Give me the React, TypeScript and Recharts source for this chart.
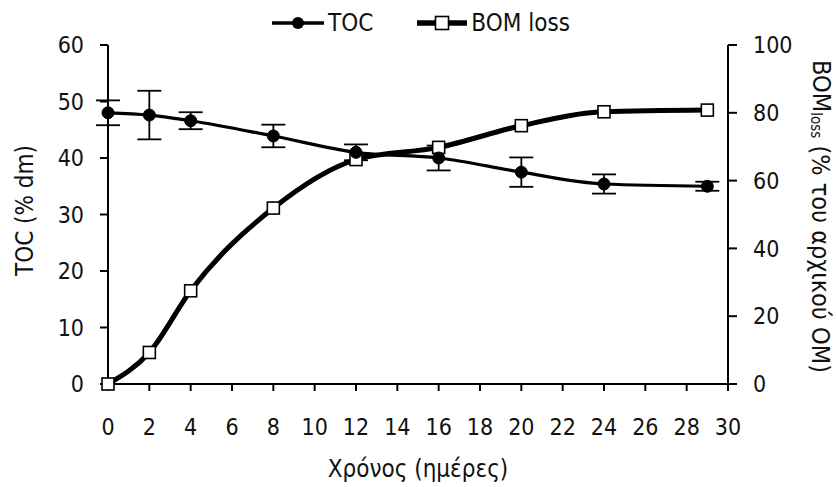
import { CartesianGrid, ErrorBar, Legend, Line, LineChart, XAxis, YAxis } from 'recharts';

const days = [0, 2, 4, 8, 12, 16, 20, 24, 29];
const toc = [48.0, 47.6, 46.6, 43.9, 41.0, 40.0, 37.5, 35.4, 35.0];
const tocErr = [2.2, 4.3, 1.5, 2.0, 1.4, 2.2, 2.6, 1.7, 0.8];
const bomLoss = [0, 9.3, 27.5, 51.9, 66.2, 69.8, 76.2, 80.3, 80.8];

const xTicks = [0, 2, 4, 6, 8, 10, 12, 14, 16, 18, 20, 22, 24, 26, 28, 30];
const leftTicks = [0, 10, 20, 30, 40, 50, 60];
const rightTicks = [0, 20, 40, 60, 80, 100];

const data = days.map((d, i) => ({
  day: d,
  toc: toc[i],
  tocErr: tocErr[i],
  bom: bomLoss[i],
}));

const FONT = "'DejaVu Sans Condensed', 'Liberation Sans', sans-serif";
const tickStyle = { fontSize: 23, fill: '#111', fontFamily: FONT };

const SquareDot = (props: any) => {
  const { cx, cy, index } = props;
  if (cx == null || cy == null) return <g key={`sq-${index}`} />;
  return (
    <rect
      key={`sq-${index}`}
      x={cx - 6}
      y={cy - 6}
      width={12}
      height={12}
      fill='#fff'
      stroke='#000'
      strokeWidth={1.6}
    />
  );
};

const LegendContent = () => (
  <div
    style={{
      display: 'flex',
      justifyContent: 'center',
      alignItems: 'center',
      height: 45,
      fontFamily: FONT,
      fontSize: 24,
      color: '#111',
      paddingLeft: 6,
    }}
  >
    <svg width={52} height={20} style={{ marginRight: 4 }}>
      <line x1={0} y1={10} x2={52} y2={10} stroke='#000' strokeWidth={3.5} />
      <circle cx={26} cy={10} r={6} fill='#000' />
    </svg>
    <span style={{ marginRight: 44 }}>TOC</span>
    <svg width={50} height={20} style={{ marginRight: 4 }}>
      <line x1={0} y1={10} x2={50} y2={10} stroke='#000' strokeWidth={5.5} />
      <rect x={18.5} y={3.5} width={13} height={13} fill='#fff' stroke='#000' strokeWidth={1.6} />
    </svg>
    <span>BOM loss</span>
  </div>
);

const LeftTitle = ({ viewBox }: any) => {
  const cx = 25;
  const cy = viewBox.y + viewBox.height / 2 - 4;
  return (
    <text
      x={cx}
      y={cy}
      transform={`rotate(-90 ${cx} ${cy})`}
      textAnchor='middle'
      dominantBaseline='central'
      style={{ fontSize: 24, fill: '#111', fontFamily: FONT }}
    >
      TOC  (% dm)
    </text>
  );
};

const RightTitle = ({ viewBox }: any) => {
  const cx = 821;
  const cy = viewBox.y + viewBox.height / 2 + 2;
  return (
    <text
      x={cx}
      y={cy}
      transform={`rotate(90 ${cx} ${cy})`}
      textAnchor='middle'
      dominantBaseline='central'
      style={{ fontSize: 25, fill: '#111', fontFamily: FONT }}
    >
      BOM
      <tspan fontSize={15} dy={5}>loss</tspan>
      <tspan dy={-5}> (% του αρχικού OM)</tspan>
    </text>
  );
};

const XTitle = ({ viewBox }: any) => {
  const cx = viewBox.x + viewBox.width / 2;
  return (
    <text
      x={cx}
      y={469}
      textAnchor='middle'
      dominantBaseline='central'
      style={{ fontSize: 24, fill: '#111', fontFamily: FONT }}
    >
      Χρόνος (ημέρες)
    </text>
  );
};

export default function App() {
  return (
    <div style={{ position: 'absolute', left: 0, top: 0, width: 836, height: 487, background: '#fff' }}>
      <LineChart width={836} height={487} data={data} margin={{ top: 0, right: 0, bottom: 43, left: 0 }}>
        <CartesianGrid horizontal={false} vertical={false} />
        <Legend verticalAlign='top' align='center' height={45} content={<LegendContent />} />
        <XAxis
          dataKey='day'
          type='number'
          domain={[0, 30]}
          ticks={xTicks}
          interval={0}
          height={60}
          tick={tickStyle}
          tickSize={7}
          tickMargin={28}
          stroke='#000'
          strokeWidth={2}
          label={<XTitle />}
        />
        <YAxis
          yAxisId='left'
          orientation='left'
          domain={[0, 60]}
          ticks={leftTicks}
          interval={0}
          width={108}
          tick={tickStyle}
          tickSize={8}
          tickMargin={16}
          stroke='#000'
          strokeWidth={2}
          label={<LeftTitle />}
        />
        <YAxis
          yAxisId='right'
          orientation='right'
          domain={[0, 100]}
          ticks={rightTicks}
          interval={0}
          width={108}
          tick={tickStyle}
          tickSize={9}
          tickMargin={16}
          stroke='#000'
          strokeWidth={2}
          label={<RightTitle />}
        />
        <Line
          yAxisId='right'
          type='monotone'
          dataKey='bom'
          name='BOM loss'
          stroke='#000'
          strokeWidth={5}
          dot={<SquareDot />}
          activeDot={false}
          isAnimationActive={false}
        />
        <Line
          yAxisId='left'
          type='monotone'
          dataKey='toc'
          name='TOC'
          stroke='#000'
          strokeWidth={3.2}
          dot={{ r: 6, fill: '#000', stroke: '#000', strokeWidth: 1 }}
          activeDot={false}
          isAnimationActive={false}
        >
          <ErrorBar dataKey='tocErr' direction='y' width={12} stroke='#000' strokeWidth={1.8} />
        </Line>
      </LineChart>
    </div>
  );
}
